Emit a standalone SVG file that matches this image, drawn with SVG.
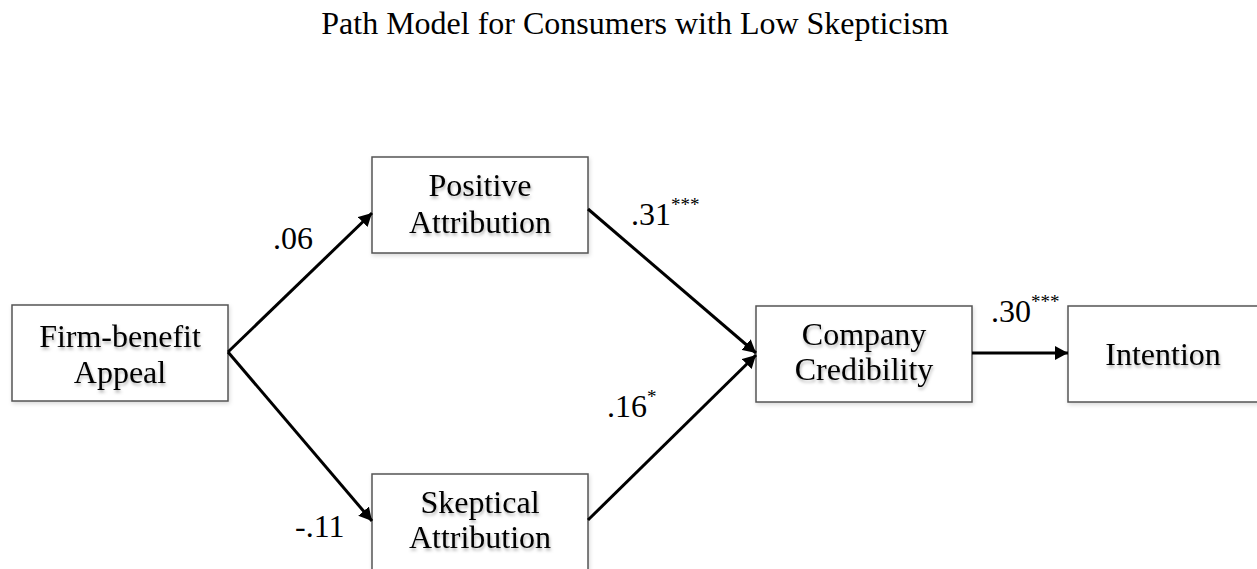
<svg xmlns="http://www.w3.org/2000/svg" width="1257" height="569" viewBox="0 0 1257 569">
<style>
text{font-family:"Liberation Serif","Times New Roman",serif;fill:#000}
.t{font-size:32px;text-anchor:middle}
.title{font-size:32px;text-anchor:middle}
.node rect{fill:#fff;stroke:#555;stroke-width:1.5}
.node text{filter:url(#ts)}
.lbl{font-size:32px}
.sup{font-size:19px}
.edge{stroke:#000;stroke-width:3;fill:none;marker-end:url(#ah)}
</style>
<defs>
<marker id="ah" viewBox="0 0 13 14" refX="13" refY="7" markerWidth="13" markerHeight="14" markerUnits="userSpaceOnUse" orient="auto">
<path d="M0,0 L13,7 L0,14 Z" fill="#000"/>
</marker>
<filter id="ts" x="-10%" y="-20%" width="130%" height="160%">
<feDropShadow dx="1" dy="2.5" stdDeviation="1.5" flood-color="#000" flood-opacity="0.3"/>
</filter>
<filter id="bs" x="-5%" y="-10%" width="115%" height="130%">
<feDropShadow dx="1" dy="2" stdDeviation="2" flood-color="#000" flood-opacity="0.15"/>
</filter>
</defs>
<rect width="1257" height="569" fill="#fff"/>
<text class="title" x="635" y="34">Path Model for Consumers with Low Skepticism</text>

<g id="firm" class="node">
<rect x="12" y="305" width="216" height="96" filter="url(#bs)"/>
<text class="t" x="120" y="347">Firm-benefit</text>
<text class="t" x="120" y="383">Appeal</text>
</g>
<g id="positive" class="node">
<rect x="372" y="157" width="216" height="96" filter="url(#bs)"/>
<text class="t" x="480" y="196">Positive</text>
<text class="t" x="480" y="233">Attribution</text>
</g>
<g id="skeptical" class="node">
<rect x="372" y="474" width="216" height="120" filter="url(#bs)"/>
<text class="t" x="480" y="513">Skeptical</text>
<text class="t" x="480" y="548">Attribution</text>
</g>
<g id="company" class="node">
<rect x="756" y="306" width="216" height="96" filter="url(#bs)"/>
<text class="t" x="864" y="345">Company</text>
<text class="t" x="864" y="380">Credibility</text>
</g>
<g id="intention" class="node">
<rect x="1068" y="306" width="216" height="96" filter="url(#bs)"/>
<text class="t" x="1163" y="365">Intention</text>
</g>

<g id="connectors">
<line class="edge" x1="228" y1="352" x2="372" y2="213"/>
<line class="edge" x1="228" y1="352" x2="372" y2="521"/>
<line class="edge" x1="588" y1="209" x2="756" y2="353"/>
<line class="edge" x1="588" y1="520" x2="756" y2="355"/>
<line class="edge" x1="972" y1="353" x2="1068" y2="353"/>
</g>

<g id="labels">
<text class="lbl" x="273" y="249">.06</text>
<text class="lbl" x="295" y="537">-.11</text>
<text class="lbl" x="631" y="225">.31<tspan class="sup" dy="-14">***</tspan></text>
<text class="lbl" x="607" y="417">.16<tspan class="sup" dy="-14">*</tspan></text>
<text class="lbl" x="991" y="322">.30<tspan class="sup" dy="-14">***</tspan></text>
</g>
</svg>
